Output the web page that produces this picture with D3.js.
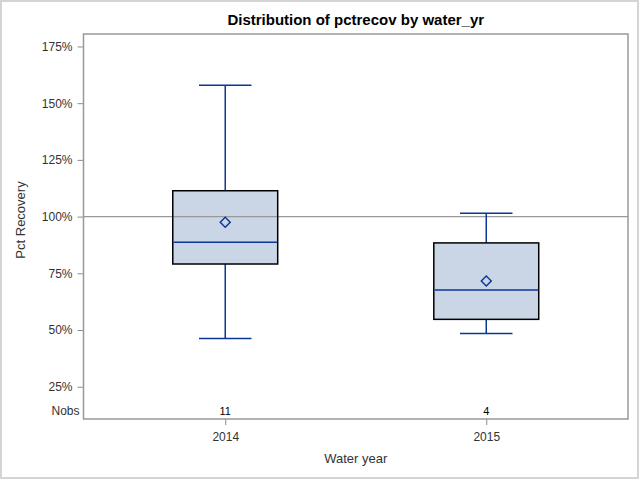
<!DOCTYPE html>
<html>
<head>
<meta charset="utf-8">
<script src="https://cdn.jsdelivr.net/npm/d3@7"></script>
<style>
  body { margin: 0; background: #fff; }
  svg { display: block; font-family: "Liberation Sans", Arial, sans-serif; }
</style>
</head>
<body>
<div id="chart"></div>
<script>
// box plot data, percent values
const categories = ['2014', '2015'];
const nobs = [11, 4];
const whiskerLow = [46.3, 48.5];
const q1 = [79.1, 54.7];
const median = [88.7, 67.6];
const q3 = [111.4, 88.4];
const whiskerHigh = [157.9, 101.5];
const means = [97.5, 71.6];
const yTicks = [25, 50, 75, 100, 125, 150, 175];
const refValue = 100;

(function() {
  'use strict';

  const W = 640, H = 480;
  const frame = { left: 83.5, right: 628, top: 34, bottom: 419 };
  const axisBottom = 406; // Nobs strip sits below this
  const blue = '#0a3796';

  const svg = d3.select('#chart').append('svg')
    .attr('width', W)
    .attr('height', H);

  // outer border
  svg.append('rect')
    .attr('x', 1).attr('y', 1)
    .attr('width', 637).attr('height', 477)
    .attr('fill', 'none')
    .attr('stroke', '#d4d4d4')
    .attr('stroke-width', 2);

  const x = d3.scalePoint()
    .domain(categories)
    .range([frame.left, frame.right])
    .padding(0.543);

  const y = d3.scaleLinear()
    .domain([16.5, 180.5])
    .range([axisBottom, frame.top]);

  const boxW = x.step() * 0.402;
  const capW = boxW / 2;

  const rows = categories.map((c, i) => ({
    cat: c, n: nobs[i], lo: whiskerLow[i], q1: q1[i], med: median[i],
    q3: q3[i], hi: whiskerHigh[i], mean: means[i]
  }));

  // title
  svg.append('text')
    .attr('x', (frame.left + frame.right) / 2)
    .attr('y', 25)
    .attr('text-anchor', 'middle')
    .attr('font-size', '15px')
    .attr('font-weight', 'bold')
    .attr('fill', '#000')
    .text('Distribution of pctrecov by water_yr');

  // axes
  const yAxis = svg.append('g')
    .attr('transform', `translate(${frame.left},0)`)
    .call(d3.axisLeft(y).tickValues(yTicks).tickSize(6).tickPadding(5)
      .tickFormat(d => d + '%'));
  yAxis.select('.domain').remove();

  const xAxis = svg.append('g')
    .attr('transform', `translate(0,${frame.bottom})`)
    .call(d3.axisBottom(x).tickSize(6).tickPadding(7));
  xAxis.select('.domain').remove();

  [yAxis, xAxis].forEach(a => {
    a.selectAll('line').attr('stroke', '#8c8c8c');
    a.selectAll('text')
      .attr('font-size', '12px')
      .attr('fill', '#333')
      .attr('font-family', '"Liberation Sans", Arial, sans-serif');
  });

  // axis labels
  svg.append('text')
    .attr('x', (frame.left + frame.right) / 2)
    .attr('y', 463)
    .attr('text-anchor', 'middle')
    .attr('font-size', '13px')
    .attr('fill', '#333')
    .text('Water year');

  svg.append('text')
    .attr('transform', `translate(24.5,${(frame.top + axisBottom) / 2}) rotate(-90)`)
    .attr('text-anchor', 'middle')
    .attr('font-size', '13px')
    .attr('fill', '#333')
    .text('Pct Recovery');

  // box fills
  svg.selectAll('.box-fill')
    .data(rows)
    .enter()
    .append('rect')
    .attr('class', 'box-fill')
    .attr('x', d => x(d.cat) - boxW / 2)
    .attr('y', d => y(d.q3))
    .attr('width', boxW)
    .attr('height', d => y(d.q1) - y(d.q3))
    .attr('fill', '#cad5e5');

  // reference line
  svg.append('line')
    .attr('x1', frame.left).attr('x2', frame.right)
    .attr('y1', y(refValue)).attr('y2', y(refValue))
    .attr('stroke', '#999')
    .attr('stroke-width', 1.3);

  const g = svg.selectAll('.box')
    .data(rows)
    .enter()
    .append('g')
    .attr('class', 'box');

  // whiskers
  g.append('line')
    .attr('x1', d => x(d.cat)).attr('x2', d => x(d.cat))
    .attr('y1', d => y(d.q3)).attr('y2', d => y(d.hi))
    .attr('stroke', blue).attr('stroke-width', 1.5);
  g.append('line')
    .attr('x1', d => x(d.cat)).attr('x2', d => x(d.cat))
    .attr('y1', d => y(d.q1)).attr('y2', d => y(d.lo))
    .attr('stroke', blue).attr('stroke-width', 1.5);
  ['hi', 'lo'].forEach(k => {
    g.append('line')
      .attr('x1', d => x(d.cat) - capW / 2).attr('x2', d => x(d.cat) + capW / 2)
      .attr('y1', d => y(d[k])).attr('y2', d => y(d[k]))
      .attr('stroke', blue).attr('stroke-width', 1.5);
  });

  // box outline
  g.append('rect')
    .attr('x', d => x(d.cat) - boxW / 2)
    .attr('y', d => y(d.q3))
    .attr('width', boxW)
    .attr('height', d => y(d.q1) - y(d.q3))
    .attr('fill', 'none')
    .attr('stroke', '#000')
    .attr('stroke-width', 1.5);

  // median
  g.append('line')
    .attr('x1', d => x(d.cat) - boxW / 2 + 0.75).attr('x2', d => x(d.cat) + boxW / 2 - 0.75)
    .attr('y1', d => y(d.med)).attr('y2', d => y(d.med))
    .attr('stroke', blue).attr('stroke-width', 1.5);

  // mean diamond
  g.append('path')
    .attr('d', d3.symbol().type(d3.symbolSquare).size(50))
    .attr('transform', d => `translate(${x(d.cat)},${y(d.mean)}) rotate(45)`)
    .attr('fill', 'none')
    .attr('stroke', blue)
    .attr('stroke-width', 1.4);

  // Nobs strip
  svg.append('text')
    .attr('x', 79.5)
    .attr('y', 415)
    .attr('text-anchor', 'end')
    .attr('font-size', '12px')
    .attr('fill', '#333')
    .text('Nobs');

  svg.selectAll('.nobs')
    .data(rows)
    .enter()
    .append('text')
    .attr('class', 'nobs')
    .attr('x', d => x(d.cat))
    .attr('y', 415)
    .attr('text-anchor', 'middle')
    .attr('font-size', '11px')
    .attr('fill', '#000')
    .text(d => d.n);

  // plot frame
  svg.append('rect')
    .attr('x', frame.left).attr('y', frame.top)
    .attr('width', frame.right - frame.left)
    .attr('height', frame.bottom - frame.top)
    .attr('fill', 'none')
    .attr('stroke', '#999')
    .attr('stroke-width', 1.5);
})();
</script>
</body>
</html>
